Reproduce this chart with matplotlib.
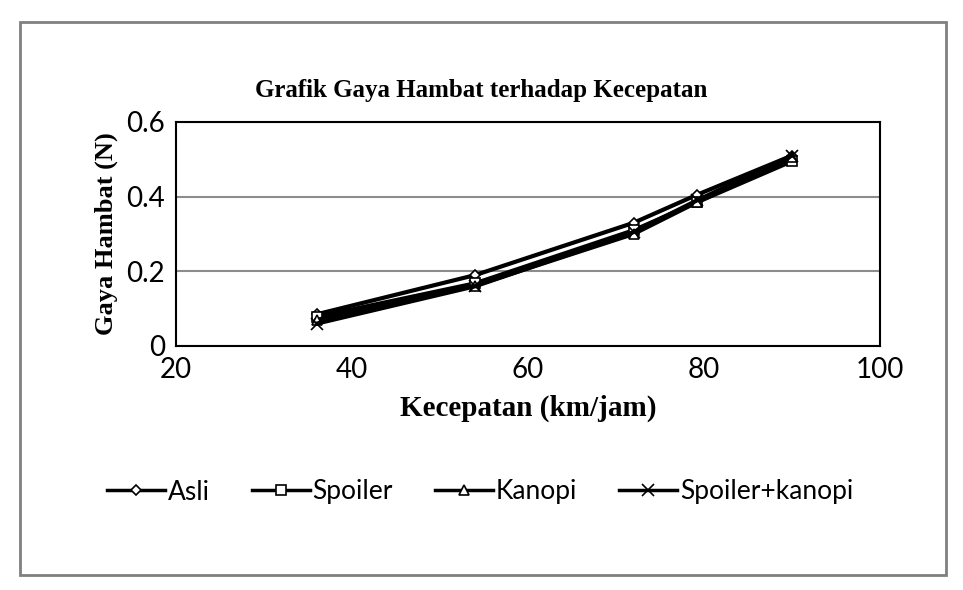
import matplotlib.pyplot as plt
from matplotlib.patches import Rectangle

kecepatan = [36, 54, 72, 79.2, 90]
asli = [0.085, 0.19, 0.33, 0.405, 0.51]
spoiler = [0.078, 0.168, 0.31, 0.385, 0.495]
kanopi = [0.07, 0.162, 0.30, 0.385, 0.505]
spoiler_kanopi = [0.06, 0.16, 0.305, 0.39, 0.51]

series = [
    ("Asli", asli, "D", 5.5),
    ("Spoiler", spoiler, "s", 6.5),
    ("Kanopi", kanopi, "^", 7),
    ("Spoiler+kanopi", spoiler_kanopi, "x", 8),
]

fig = plt.figure(figsize=(9.63, 5.9), dpi=100)
# outer chart border
fig.patches.append(Rectangle((20 / 963, 1 - 575 / 590), 926 / 963, 553 / 590,
                             transform=fig.transFigure, fill=False,
                             edgecolor="#808080", linewidth=2))

ax = fig.add_axes([176 / 963, 1 - 346 / 590, 704 / 963, 224 / 590])

for label, vals, mk, ms in series:
    ax.plot(kecepatan, vals, color="black", linewidth=3, marker=mk,
            markersize=ms, markerfacecolor="white", markeredgecolor="black",
            markeredgewidth=1.2, label=label)

ax.set_xlim(20, 100)
ax.set_ylim(0, 0.6)
ax.set_xticks([20, 40, 60, 80, 100])
ax.set_yticks([0, 0.2, 0.4, 0.6])
ax.set_yticklabels(["0", "0.2", "0.4", "0.6"])
ax.yaxis.grid(True, color="#8c8c8c", linewidth=1.5)
ax.set_axisbelow(True)
for s in ax.spines.values():
    s.set_color("black")
    s.set_linewidth(1.5)
ax.tick_params(axis="both", length=0, labelsize=20, pad=8)
for t in ax.get_xticklabels() + ax.get_yticklabels():
    t.set_family("Lato")

serif = dict(family="Liberation Serif", weight="bold")
fig.text(481 / 963, 1 - 90 / 590, "Grafik Gaya Hambat terhadap Kecepatan",
         ha="center", va="center", fontsize=18, **serif)
ax.set_xlabel("Kecepatan (km/jam)", fontsize=21, labelpad=8, **serif)
ax.set_ylabel("Gaya Hambat (N)", fontsize=19, labelpad=6, **serif)

leg = fig.legend(loc="center", bbox_to_anchor=(480 / 963, 1 - 492 / 590), ncol=4,
                 frameon=False, prop={"family": "Lato", "size": 19},
                 handlelength=2.2, handletextpad=0.1, columnspacing=1.6)
for h in leg.legend_handles:
    h.set_linewidth(2.5)

fig.savefig("out.png", dpi=100)
